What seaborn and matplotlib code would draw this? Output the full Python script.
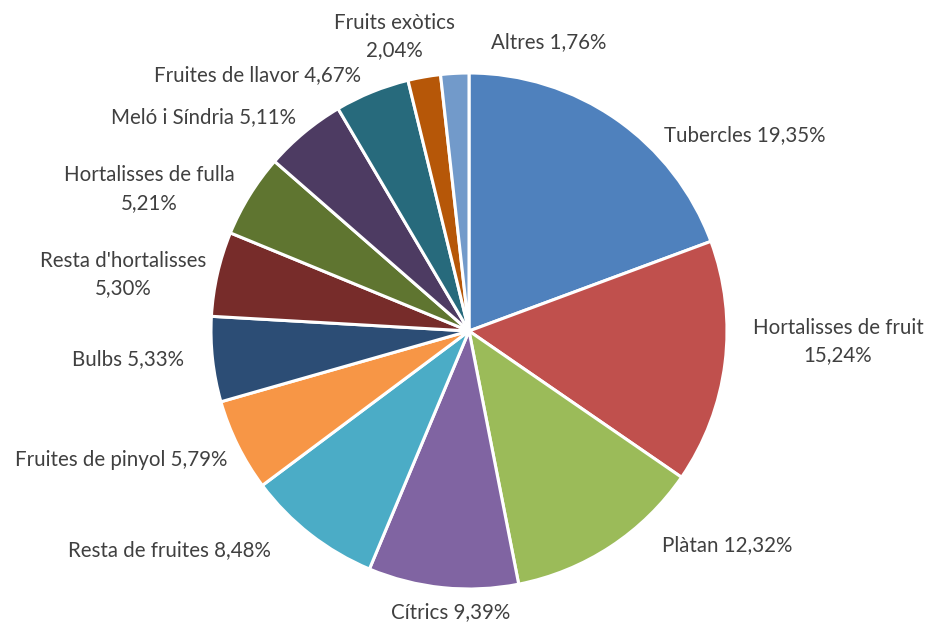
import matplotlib
matplotlib.use("Agg")
import matplotlib.pyplot as plt
import seaborn as sns

categories = ["Tubercles", "Hortalisses de fruit", "Plàtan", "Cítrics", "Resta de fruites",
              "Fruites de pinyol", "Bulbs", "Resta d'hortalisses", "Hortalisses de fulla",
              "Meló i Síndria", "Fruites de llavor", "Fruits exòtics", "Altres"]
values = [19.35, 15.24, 12.32, 9.39, 8.48, 5.79, 5.33, 5.30, 5.21, 5.11, 4.67, 2.04, 1.76]
label_texts = ["Tubercles 19,35%", "Hortalisses de fruit\n15,24%", "Plàtan 12,32%",
               "Cítrics 9,39%", "Resta de fruites 8,48%", "Fruites de pinyol 5,79%",
               "Bulbs 5,33%", "Resta d'hortalisses\n5,30%", "Hortalisses de fulla\n5,21%",
               "Meló i Síndria 5,11%", "Fruites de llavor 4,67%", "Fruits exòtics\n2,04%",
               "Altres 1,76%"]
colors = ["#4F81BD", "#C0504D", "#9BBB59", "#8064A2", "#4BACC6", "#F79646", "#2C4D75",
          "#772C2A", "#5F7530", "#4D3B62", "#276A7C", "#B65708", "#729ACA"]
# label anchor positions (in units of pie radius, relative to centre)
label_pos = [(1.07, 0.76), (1.43, -0.04), (1.00, -0.83), (-0.07, -1.09), (-1.16, -0.85),
             (-1.35, -0.50), (-1.32, -0.11), (-1.34, 0.22), (-1.24, 0.55), (-1.03, 0.83),
             (-0.82, 0.99), (-0.29, 1.14), (0.31, 1.12)]

sns.set_theme(style="white")
plt.rcParams['font.family'] = ['Lato', 'DejaVu Sans']
palette = sns.color_palette(colors)

fig = plt.figure(figsize=(9.28, 6.25), dpi=100)
ax = fig.add_axes([0, 0, 1, 1])
ax.pie(values, colors=palette, startangle=90, counterclock=False, radius=1.0,
       wedgeprops=dict(edgecolor="white", linewidth=2.2))
for txt, (x, y) in zip(label_texts, label_pos):
    ax.text(x, y, txt, ha="center", va="center", fontsize=14.8, color="#404040",
            linespacing=1.45)
ax.set_xlim(-469 / 258, (928 - 469) / 258)
ax.set_ylim(-(625 - 331) / 258, 331 / 258)
ax.set_aspect("equal")
ax.axis("off")
fig.savefig("out.png", dpi=100, facecolor="white")
